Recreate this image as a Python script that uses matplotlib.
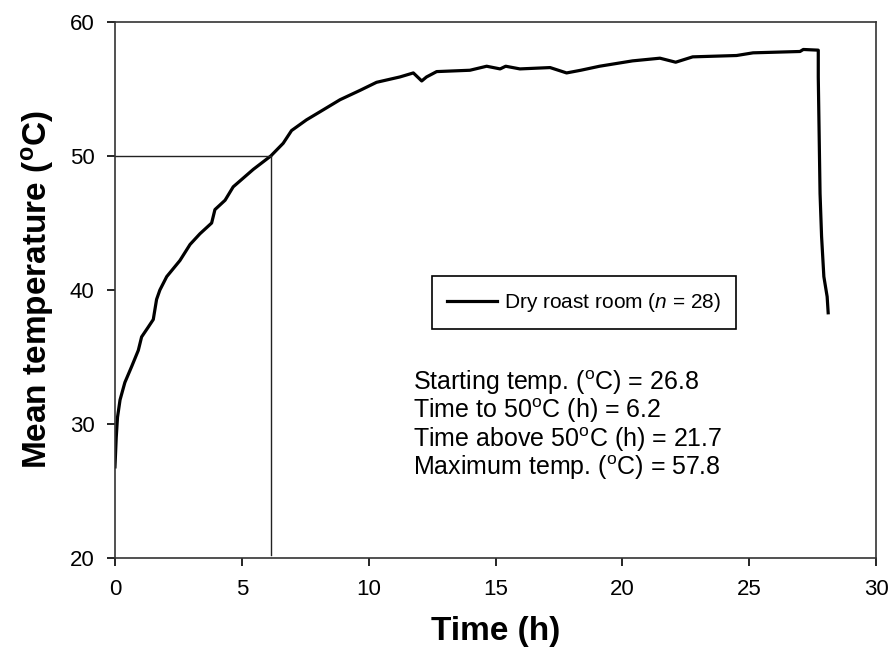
import matplotlib
matplotlib.use("Agg")
import matplotlib.pyplot as plt

plt.rcParams["font.family"] = ["Liberation Sans", "DejaVu Sans"]
plt.rcParams["mathtext.fontset"] = "custom"
plt.rcParams["mathtext.rm"] = "Liberation Sans"
plt.rcParams["mathtext.it"] = "Liberation Sans:italic"
plt.rcParams["mathtext.bf"] = "Liberation Sans:bold"

# mean temperature
time_h = [0.0, 0.05, 0.1, 0.2, 0.39, 0.66, 0.92, 1.05, 1.3, 1.51, 1.64, 1.77,
          2.04, 2.56, 2.96, 3.35, 3.81, 3.94, 4.34, 4.66, 5.45, 6.14, 6.63,
          6.96, 7.55, 8.08, 8.87, 9.66, 10.31, 11.23, 11.76, 12.09, 12.28,
          12.68, 13.99, 14.65, 15.18, 15.4, 15.96, 17.15, 17.8, 18.36, 19.1,
          20.4, 21.48, 22.1, 22.77, 24.5, 25.15, 27.0, 27.13, 27.72, 27.72,
          27.79, 27.85, 27.94, 28.07, 28.11]
temp_c = [26.8, 29.0, 30.5, 31.8, 33.1, 34.3, 35.5, 36.5, 37.2, 37.8, 39.3,
          40.0, 41.0, 42.2, 43.4, 44.2, 45.0, 46.0, 46.7, 47.7, 49.0, 50.0,
          50.95, 51.9, 52.7, 53.3, 54.2, 54.9, 55.5, 55.9, 56.2, 55.6, 55.9,
          56.3, 56.4, 56.7, 56.5, 56.7, 56.5, 56.6, 56.2, 56.4, 56.7, 57.1,
          57.3, 57.0, 57.4, 57.5, 57.7, 57.8, 57.95, 57.9, 55.9, 47.2, 44.0,
          41.0, 39.5, 38.3]

threshold_temp = 50
time_to_threshold = 6.14
x_ticks = [0, 5, 10, 15, 20, 25, 30]
y_ticks = [20, 30, 40, 50, 60]
stats_lines = [
    r"Starting temp. ($\mathregular{^{o}}$C) = 26.8",
    r"Time to 50$\mathregular{^{o}}$C (h) = 6.2",
    r"Time above 50$\mathregular{^{o}}$C (h) = 21.7",
    r"Maximum temp. ($\mathregular{^{o}}$C) = 57.8",
]

fig = plt.figure(figsize=(8.94, 6.67), dpi=100)
ax = fig.add_axes([0.1286, 0.1634, 0.8514, 0.8036])

ax.plot(time_h, temp_c, color="black", lw=2.3,
        label=r"Dry roast room ($\mathit{n}$ = 28)")

# guide lines at 50 C
ax.plot([0, time_to_threshold], [threshold_temp, threshold_temp], color="#222222", lw=1.0)
ax.plot([time_to_threshold, time_to_threshold], [20.2, threshold_temp], color="#222222", lw=1.0)

ax.set_xlim(0, 30)
ax.set_ylim(20, 60)
ax.set_xticks(x_ticks)
ax.set_yticks(y_ticks)
ax.tick_params(direction="out", length=5.8, width=1.2, labelsize=16, pad=9)
for s in ax.spines.values():
    s.set_linewidth(1.2)
    s.set_color("#333333")

ax.set_xlabel("Time (h)", fontsize=24, fontweight="bold", labelpad=12)
ax.set_ylabel(r"Mean temperature ($\mathregular{^{o}}$C)", fontsize=24,
              fontweight="bold", labelpad=10)

leg = ax.legend(loc="upper left", bbox_to_anchor=(0.4166, 0.526),
                borderaxespad=0, fancybox=False, edgecolor="black",
                fontsize=15, handlelength=2.4, borderpad=0.72, handletextpad=0.35)
leg.get_frame().set_linewidth(1.2)
leg.get_frame().set_alpha(1)

ax.text(11.75, 34.18, "\n".join(stats_lines), fontsize=18, va="top", ha="left",
        linespacing=1.0)

fig.savefig("out.png", dpi=100)
